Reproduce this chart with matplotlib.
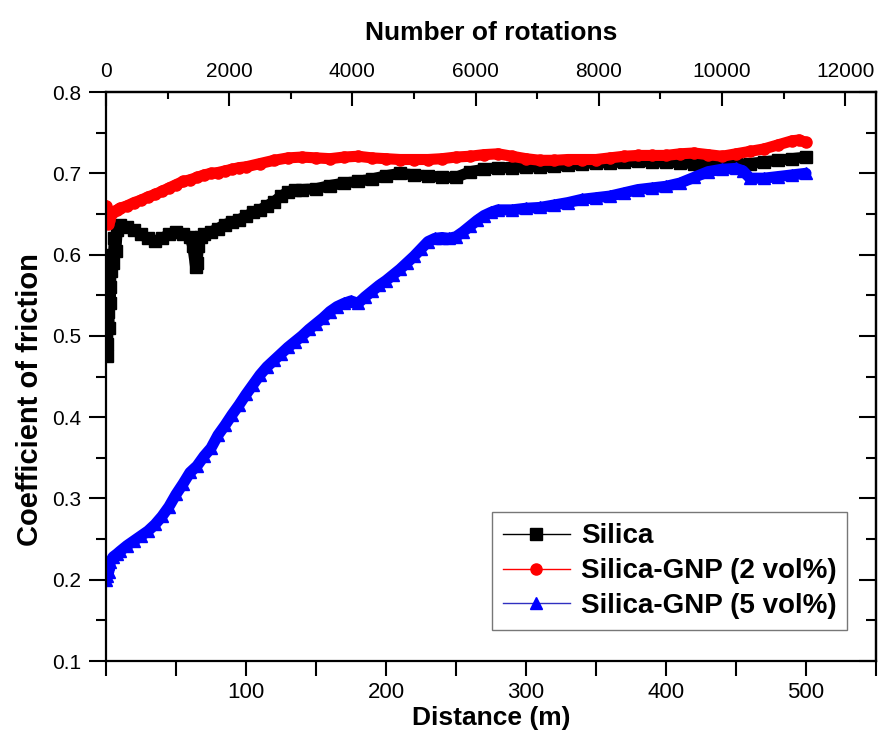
import matplotlib
matplotlib.use("Agg")
import matplotlib.pyplot as plt
from matplotlib.lines import Line2D
from matplotlib.ticker import MultipleLocator, FuncFormatter, FixedLocator

plt.rcParams['font.family'] = ['Liberation Sans', 'DejaVu Sans']

# ---- data ----
silica_d = [0, 0.5, 1, 1.5, 2, 2.5, 3, 3.5, 4, 5, 6, 7, 8, 10, 15, 20, 25, 30, 35, 40, 45, 50,
            55, 60, 62, 64, 65, 66, 68, 70, 75, 80, 85, 90, 95, 100, 105, 110, 115, 120, 125,
            130, 135, 140, 150, 160, 170, 180, 190, 200, 210, 220, 230, 240, 250, 260, 270,
            280, 290, 300, 310, 320, 330, 340, 350, 360, 370, 380, 390, 400, 410, 420, 430,
            440, 450, 460, 470, 480, 490, 500]
silica_cof = [0.50, 0.475, 0.49, 0.53, 0.51, 0.56, 0.54, 0.58, 0.60, 0.59, 0.62, 0.605, 0.63,
              0.636, 0.634, 0.63, 0.625, 0.62, 0.617, 0.62, 0.625, 0.628, 0.625, 0.622, 0.61,
              0.585, 0.59, 0.61, 0.622, 0.625, 0.628, 0.632, 0.637, 0.64, 0.643, 0.647, 0.652,
              0.655, 0.66, 0.665, 0.672, 0.677, 0.68, 0.68, 0.681, 0.685, 0.688, 0.69, 0.693,
              0.697, 0.70, 0.698, 0.697, 0.695, 0.695, 0.702, 0.705, 0.707, 0.707, 0.708,
              0.708, 0.709, 0.71, 0.712, 0.713, 0.713, 0.714, 0.715, 0.714, 0.714, 0.713,
              0.712, 0.711, 0.71, 0.711, 0.712, 0.714, 0.716, 0.718, 0.72]

gnp2_d = [0, 0.5, 1, 1.5, 2, 3, 5, 8, 10, 15, 20, 25, 30, 35, 40, 45, 50, 55, 60, 65, 70, 75,
          80, 85, 90, 95, 100, 110, 120, 130, 140, 150, 160, 170, 180, 190, 200, 210, 220,
          230, 240, 250, 260, 270, 280, 290, 300, 310, 320, 330, 340, 350, 360, 370, 380,
          390, 400, 410, 420, 430, 440, 450, 460, 470, 480, 490, 495, 500]
gnp2_cof = [0.66, 0.655, 0.645, 0.638, 0.642, 0.648, 0.652, 0.655, 0.657, 0.66, 0.664, 0.667,
            0.671, 0.674, 0.678, 0.682, 0.686, 0.69, 0.692, 0.695, 0.698, 0.70, 0.701, 0.703,
            0.705, 0.707, 0.708, 0.712, 0.716, 0.719, 0.72, 0.719, 0.718, 0.72, 0.721, 0.719,
            0.718, 0.717, 0.717, 0.717, 0.718, 0.72, 0.721, 0.723, 0.724, 0.721, 0.718,
            0.716, 0.716, 0.717, 0.717, 0.717, 0.719, 0.721, 0.722, 0.722, 0.722, 0.724,
            0.725, 0.723, 0.721, 0.724, 0.727, 0.73, 0.735, 0.74, 0.741, 0.738]

gnp5_d = [0, 0.5, 1, 1.5, 2, 3, 5, 8, 10, 15, 20, 25, 30, 35, 40, 45, 50, 55, 60, 65, 70, 75,
          80, 85, 90, 95, 100, 105, 110, 115, 120, 125, 130, 135, 140, 145, 150, 155, 160,
          165, 170, 175, 180, 185, 190, 195, 200, 205, 210, 215, 220, 225, 230, 235, 240,
          245, 250, 255, 260, 265, 270, 275, 280, 290, 300, 310, 320, 330, 340, 350, 360,
          370, 380, 390, 400, 410, 420, 430, 440, 450, 455, 460, 470, 480, 490, 500]
gnp5_cof = [0.20, 0.215, 0.205, 0.22, 0.21, 0.222, 0.228, 0.232, 0.235, 0.242, 0.248, 0.254,
            0.26, 0.268, 0.278, 0.29, 0.305, 0.318, 0.332, 0.34, 0.352, 0.362, 0.378, 0.39,
            0.403, 0.415, 0.428, 0.44, 0.452, 0.462, 0.47, 0.478, 0.486, 0.493, 0.50, 0.508,
            0.515, 0.522, 0.53, 0.536, 0.54, 0.543, 0.54, 0.548, 0.555, 0.562, 0.568, 0.575,
            0.582, 0.59, 0.598, 0.607, 0.616, 0.62, 0.621, 0.62, 0.622, 0.628, 0.635, 0.642,
            0.648, 0.652, 0.655, 0.655, 0.657, 0.658, 0.661, 0.664, 0.668, 0.67, 0.672,
            0.676, 0.68, 0.682, 0.684, 0.688, 0.695, 0.702, 0.705, 0.706, 0.703, 0.694,
            0.694, 0.696, 0.698, 0.70]

labels = ['Silica', 'Silica-GNP (2 vol%)', 'Silica-GNP (5 vol%)']
colors = ['#000000', '#ff0000', '#0000ff']
legend_line_colors = ['#000000', '#ff0000', '#3030c0']
markers = ['s', 'o', '^']
m_per_rotation = 0.044
rotation_ticks = [0, 2000, 4000, 6000, 8000, 10000, 12000]
rotation_minor = [1000, 3000, 5000, 7000, 9000, 11000]

# ---- figure ----
fig = plt.figure(figsize=(8.79, 7.31), dpi=100)
ax = fig.add_axes([0.1206, 0.0957, 0.876, 0.7784])

series = [(silica_d, silica_cof), (gnp2_d, gnp2_cof), (gnp5_d, gnp5_cof)]
for (d, c), col, mk in zip(series, colors, markers):
    ax.plot(d, c, color=col, lw=8, marker=mk, ms=8, mec=col, mfc=col,
            solid_joinstyle='round', solid_capstyle='round')

ax.set_xlim(0, 550)
ax.set_ylim(0.1, 0.8)

ax.xaxis.set_major_locator(MultipleLocator(100))
ax.xaxis.set_minor_locator(MultipleLocator(50))
ax.xaxis.set_major_formatter(FuncFormatter(lambda v, p: '' if v < 1 else f'{v:.0f}'))
ax.yaxis.set_major_locator(MultipleLocator(0.1))
ax.yaxis.set_minor_locator(MultipleLocator(0.05))
ax.yaxis.set_major_formatter(FuncFormatter(lambda v, p: f'{v:.1f}'))

ax.tick_params(axis='x', which='both', direction='out', top=False, length=11, width=1.5,
               labelsize=16, pad=4)
ax.tick_params(axis='y', which='major', direction='out', length=12, width=1.5,
               labelsize=15, pad=6)
ax.tick_params(axis='y', which='minor', direction='out', length=7, width=1.5)
ax.tick_params(axis='y', which='both', right=False)
for s in ax.spines.values():
    s.set_linewidth(1.6)

# right axis ticks (inward)
axr = ax.secondary_yaxis('right')
axr.yaxis.set_major_locator(MultipleLocator(0.1))
axr.yaxis.set_minor_locator(MultipleLocator(0.05))
axr.tick_params(which='major', direction='in', length=12, width=1.5, labelright=False)
axr.tick_params(which='minor', direction='in', length=7, width=1.5)
axr.spines['right'].set_linewidth(1.6)

# top axis: number of rotations
axt = ax.secondary_xaxis('top', functions=(lambda d: d / m_per_rotation,
                                           lambda r: r * m_per_rotation))
axt.xaxis.set_major_locator(FixedLocator(rotation_ticks))
axt.xaxis.set_minor_locator(FixedLocator(rotation_minor))
axt.xaxis.set_major_formatter(FuncFormatter(lambda v, p: f'{v:.0f}'))
axt.tick_params(which='major', direction='in', length=10, width=1.5, labelsize=15, pad=8)
axt.tick_params(which='minor', direction='in', length=5, width=1.5)
axt.spines['top'].set_linewidth(1.6)
axt.set_xlabel('Number of rotations', fontsize=19, fontweight='bold', labelpad=16)

ax.set_xlabel('Distance (m)', fontsize=19, fontweight='bold', labelpad=2)
ax.set_ylabel('Coefficient of friction', fontsize=21, fontweight='bold')
ax.yaxis.set_label_coords(-0.080, 0.46)

handles = [Line2D([], [], color=lc, lw=1, marker=mk, ms=8, mfc=c, mec=c)
           for lc, c, mk in zip(legend_line_colors, colors, markers)]
leg = ax.legend(handles, labels, loc='lower left', bbox_to_anchor=(0.501, 0.054),
                prop={'weight': 'bold', 'size': 20}, frameon=True, fancybox=False,
                edgecolor='#555555', handlelength=2.4, numpoints=1, borderpad=0.4,
                labelspacing=0.32, handletextpad=0.4, borderaxespad=0)
leg.get_frame().set_linewidth(1.0)

fig.savefig('out.png', dpi=100)
